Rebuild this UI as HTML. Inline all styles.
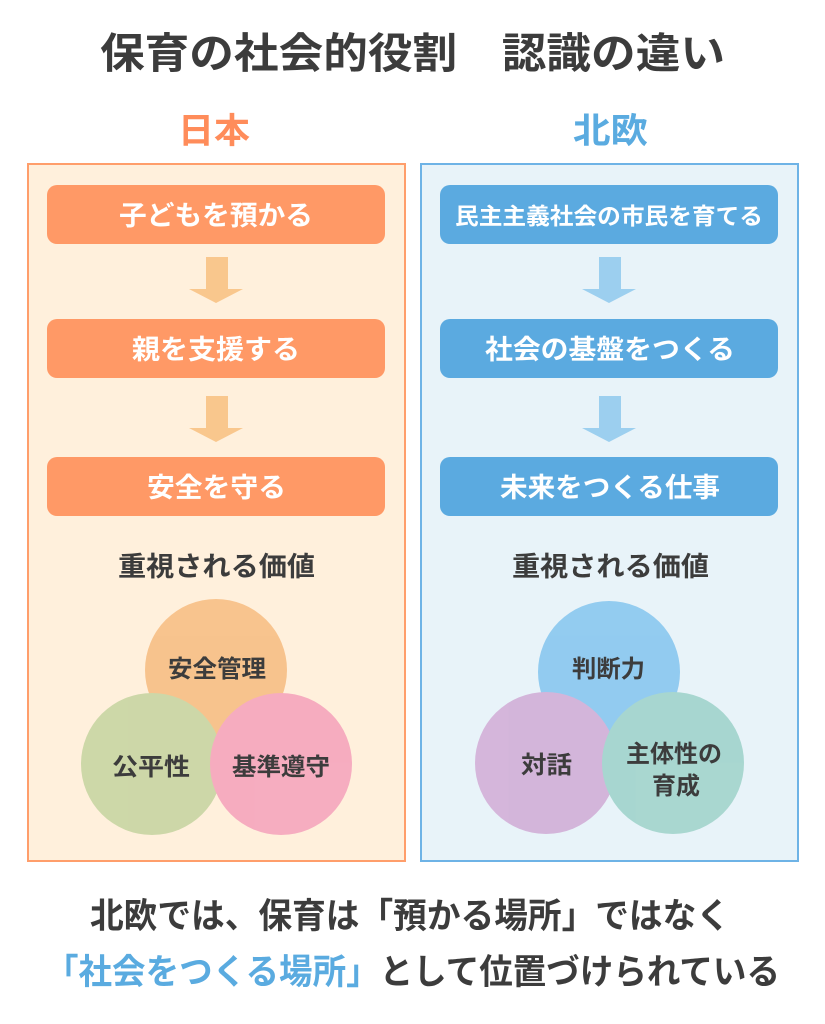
<!DOCTYPE html>
<html><head><meta charset="utf-8"><style>
html,body{margin:0;padding:0;background:#fff;}
svg{display:block}
text{font-family:"Liberation Sans","Noto Sans CJK JP",sans-serif;font-weight:bold;}
</style></head><body>
<svg width="825" height="1024" viewBox="0 0 825 1024" xmlns="http://www.w3.org/2000/svg">
<rect width="825" height="1024" fill="#fff"/>
<text x="100" y="68" font-size="42" fill="#3c3c3c" textLength="625" lengthAdjust="spacingAndGlyphs">保育の社会的役割　認識の違い</text>
<text x="178" y="143" font-size="35" fill="#FF8C5A" textLength="72" lengthAdjust="spacingAndGlyphs">日本</text>
<text x="573" y="143" font-size="35" fill="#5AABE0" textLength="75" lengthAdjust="spacingAndGlyphs">北欧</text>

<rect x="28" y="164" width="377" height="697" fill="#FFF0DC" stroke="#FF9E6B" stroke-width="2"/>
<rect x="421" y="164" width="377" height="697" fill="#E8F3F9" stroke="#6EB3E6" stroke-width="2"/>

<g fill="#FF9966">
<rect x="47" y="185" width="338" height="59" rx="10"/>
<rect x="47" y="319" width="338" height="59" rx="10"/>
<rect x="47" y="457" width="338" height="59" rx="10"/>
</g>
<g fill="#5BAAE0">
<rect x="440" y="185" width="338" height="59" rx="10"/>
<rect x="440" y="319" width="338" height="59" rx="10"/>
<rect x="440" y="457" width="338" height="59" rx="10"/>
</g>
<g fill="#F9C78D">
<polygon points="206,257 228,257 228,289 243,289 216,303 189,289 206,289"/>
<polygon points="206,396 228,396 228,428 243,428 216,442 189,428 206,428"/>
</g>
<g fill="#9CCFEF">
<polygon points="599,257 621,257 621,289 636,289 609,303 582,289 599,289"/>
<polygon points="599,396 621,396 621,428 636,428 609,442 582,428 599,428"/>
</g>
<g font-size="27" fill="#fff" lengthAdjust="spacingAndGlyphs">
<text x="119" y="225" textLength="194" lengthAdjust="spacingAndGlyphs">子どもを預かる</text>
<text x="132" y="359" textLength="168" lengthAdjust="spacingAndGlyphs">親を支援する</text>
<text x="147" y="497" textLength="139" lengthAdjust="spacingAndGlyphs">安全を守る</text>
<text x="455" y="224" font-size="23" textLength="308" lengthAdjust="spacingAndGlyphs">民主主義社会の市民を育てる</text>
<text x="485" y="359" textLength="250" lengthAdjust="spacingAndGlyphs">社会の基盤をつくる</text>
<text x="500" y="497" textLength="220" lengthAdjust="spacingAndGlyphs">未来をつくる仕事</text>
</g>
<text x="118" y="576" font-size="27" fill="#3c3c3c" textLength="197" lengthAdjust="spacingAndGlyphs">重視される価値</text>
<text x="512" y="576" font-size="27" fill="#3c3c3c" textLength="197" lengthAdjust="spacingAndGlyphs">重視される価値</text>

<g opacity="0.78">
<circle cx="216" cy="670" r="71" fill="#F6B778"/>
<circle cx="152" cy="764" r="71" fill="#BFD19A"/>
<circle cx="281" cy="764" r="71" fill="#F49AB8"/>
</g>
<g opacity="0.8">
<circle cx="609" cy="672" r="71" fill="#7DC2EE"/>
<circle cx="546" cy="763" r="71" fill="#CFA6D3"/>
<circle cx="673" cy="763" r="71" fill="#98D0C6"/>
</g>
<g font-size="24" fill="#3c3c3c">
<text x="168" y="677" textLength="98" lengthAdjust="spacingAndGlyphs">安全管理</text>
<text x="112" y="775" textLength="78" lengthAdjust="spacingAndGlyphs">公平性</text>
<text x="232" y="775" textLength="98" lengthAdjust="spacingAndGlyphs">基準遵守</text>
<text x="572" y="677" textLength="73" lengthAdjust="spacingAndGlyphs">判断力</text>
<text x="521" y="773" textLength="51" lengthAdjust="spacingAndGlyphs">対話</text>
<text x="626" y="762" textLength="96" lengthAdjust="spacingAndGlyphs">主体性の</text>
<text x="652" y="794" textLength="48" lengthAdjust="spacingAndGlyphs">育成</text>
</g>
<text x="90" y="928" font-size="35" fill="#3c3c3c" textLength="640" lengthAdjust="spacingAndGlyphs">北欧では、保育は「預かる場所」ではなく</text>
<text x="45" y="984" font-size="35" fill="#3c3c3c" textLength="735" lengthAdjust="spacingAndGlyphs"><tspan fill="#5AABE0">「社会をつくる場所」</tspan>として位置づけられている</text>
</svg>
</body></html>
